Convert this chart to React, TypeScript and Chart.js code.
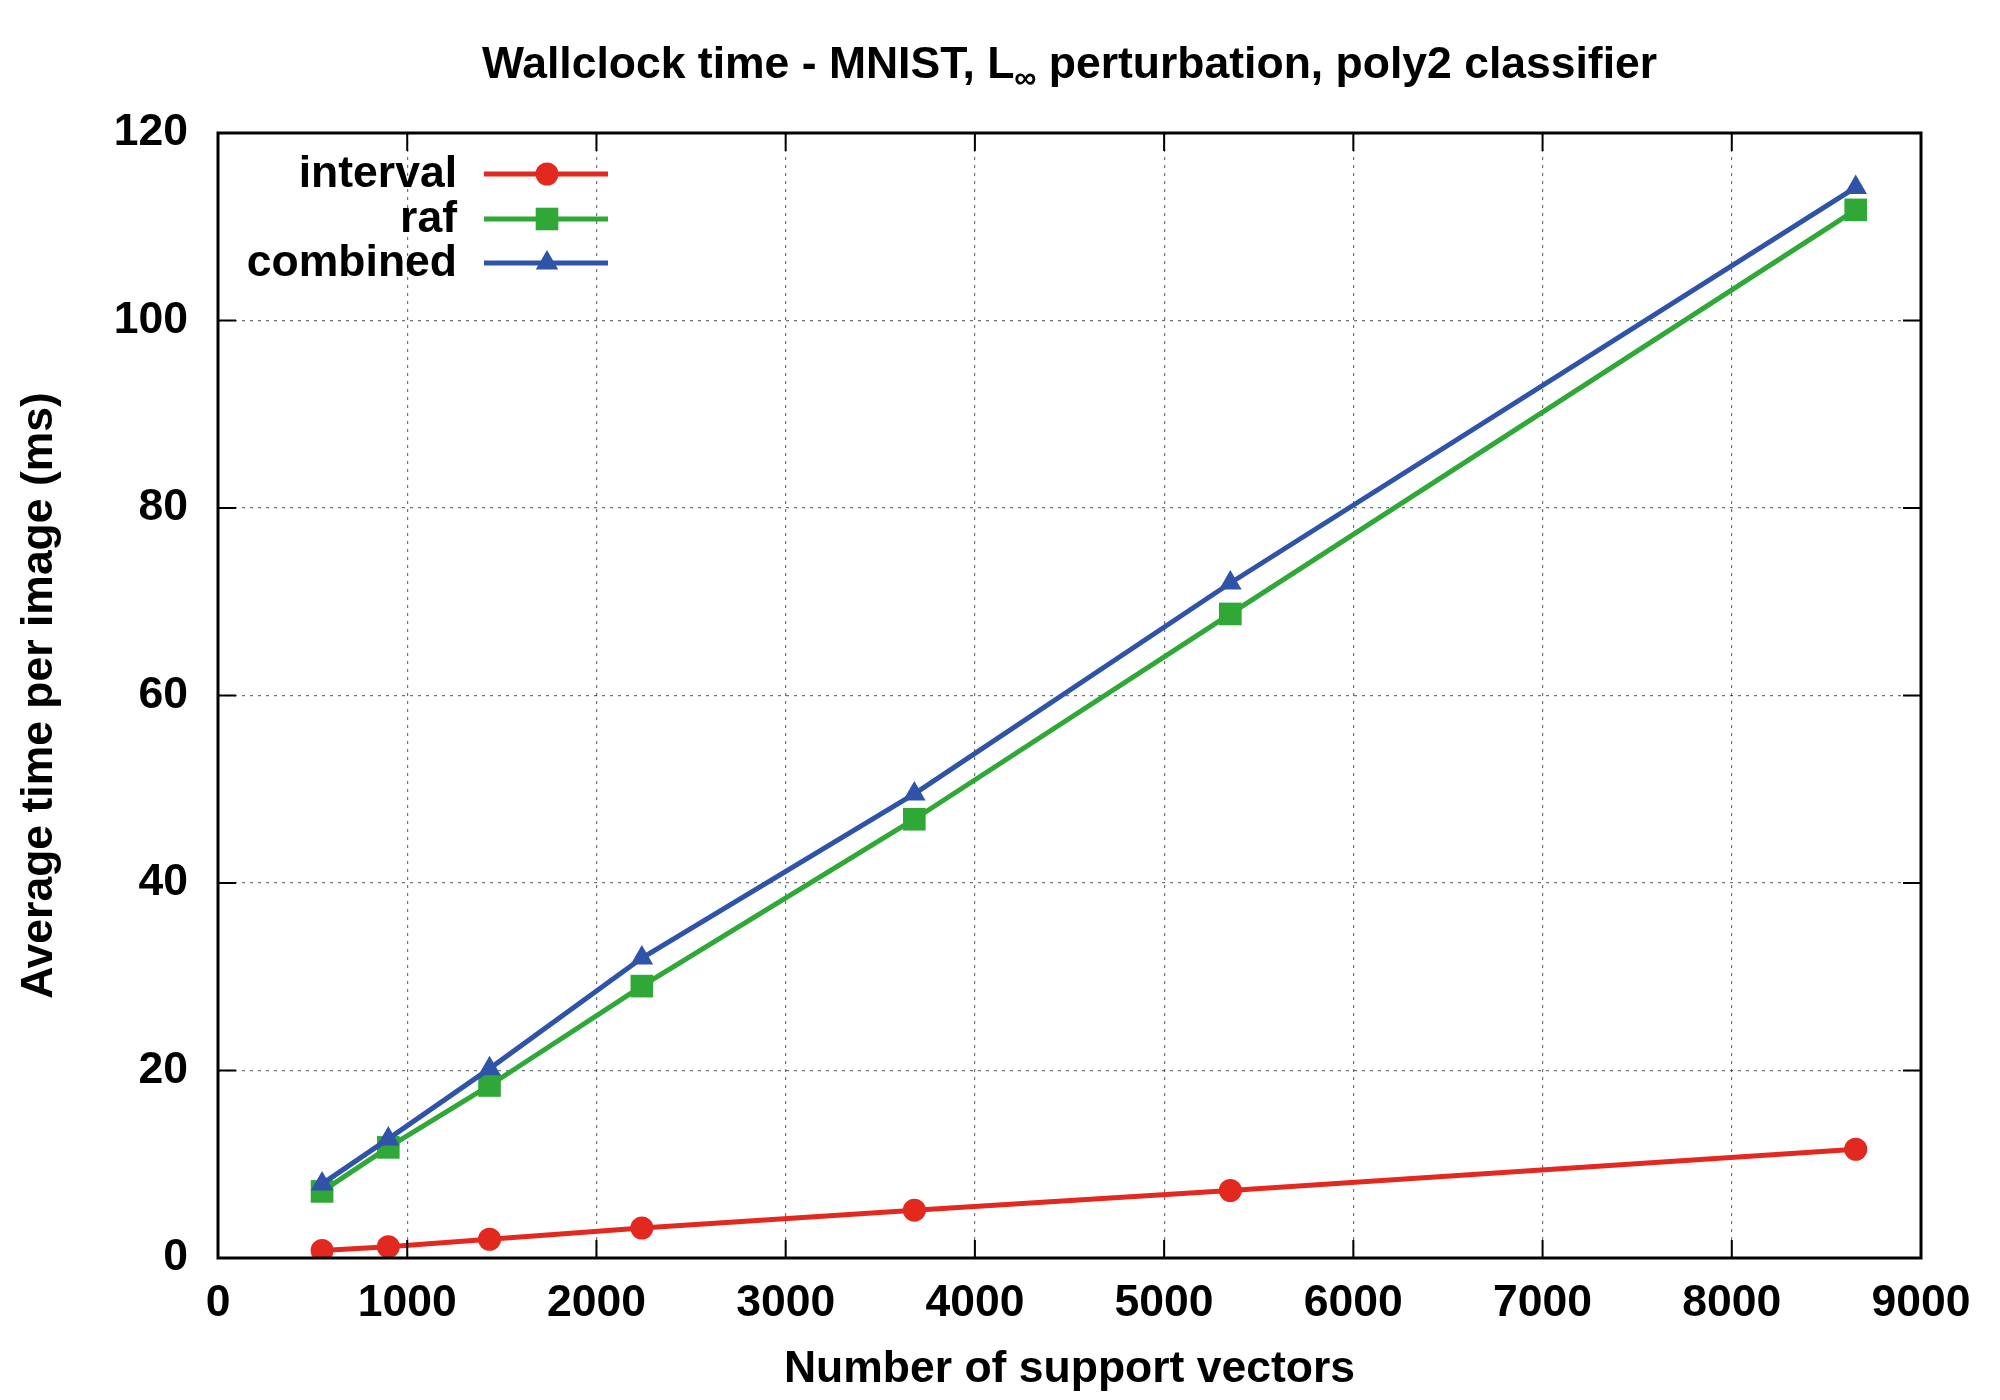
import React, { useEffect, useRef } from "react";
import { Chart, registerables } from "chart.js";

Chart.register(...registerables);

const TITLE_PRE = "Wallclock time - MNIST, L";
const TITLE_SUB = "\u221E";
const TITLE_POST = " perturbation, poly2 classifier";
const X_TITLE = "Number of support vectors";
const Y_TITLE = "Average time per image (ms)";

const supportVectors = [550, 900, 1435, 2240, 3680, 5350, 8655];
const intervalMs = [0.8, 1.2, 2.0, 3.2, 5.1, 7.2, 11.6];
const rafMs = [7.1, 11.8, 18.4, 29.0, 46.8, 68.7, 111.8];
const combinedMs = [7.9, 12.7, 20.2, 32.0, 49.5, 72.0, 114.2];

const seriesLabels = ["interval", "raf", "combined"];
const seriesColors = ["#e3281f", "#2fa838", "#2e53a8"];
const seriesStyles = ["circle", "rect", "triangle"];
const seriesRadius = [11.5, 16, 13];

const X_MIN = 0, X_MAX = 9000, X_STEP = 1000;
const Y_MIN = 0, Y_MAX = 120, Y_STEP = 20;

const FONT_FAMILY = '"Liberation Sans", Arial, Helvetica, sans-serif';
const FS = 44.5;

function drawMarker(ctx: CanvasRenderingContext2D, style: string, x: number, y: number, r: number, color: string) {
  ctx.save();
  ctx.fillStyle = color;
  ctx.beginPath();
  if (style === "circle") {
    ctx.arc(x, y, r, 0, Math.PI * 2);
  } else if (style === "rect") {
    const s = Math.SQRT1_2 * r;
    ctx.rect(x - s, y - s, 2 * s, 2 * s);
  } else {
    let rad = 0;
    ctx.moveTo(x + Math.sin(rad) * r, y - Math.cos(rad) * r);
    rad += (2 * Math.PI) / 3;
    ctx.lineTo(x + Math.sin(rad) * r, y - Math.cos(rad) * r);
    rad += (2 * Math.PI) / 3;
    ctx.lineTo(x + Math.sin(rad) * r, y - Math.cos(rad) * r);
    ctx.closePath();
  }
  ctx.fill();
  ctx.restore();
}

const framePlugin = {
  id: "frameAndDecor",
  afterDraw(chart: any) {
    const { ctx, chartArea } = chart;
    const { left, right, top, bottom } = chartArea;
    const xs = chart.scales.x;
    const ys = chart.scales.y;
    ctx.save();
    // inward tick marks
    ctx.strokeStyle = "#000";
    ctx.lineWidth = 2;
    const TL = 18;
    ctx.beginPath();
    xs.ticks.forEach((t: any) => {
      const px = xs.getPixelForValue(t.value);
      ctx.moveTo(px, bottom);
      ctx.lineTo(px, bottom - TL);
      ctx.moveTo(px, top);
      ctx.lineTo(px, top + TL);
    });
    ys.ticks.forEach((t: any) => {
      const py = ys.getPixelForValue(t.value);
      ctx.moveTo(left, py);
      ctx.lineTo(left + TL, py);
      ctx.moveTo(right, py);
      ctx.lineTo(right - TL, py);
    });
    ctx.stroke();
    // frame
    ctx.lineWidth = 3;
    ctx.strokeRect(left, top, right - left, bottom - top);

    // title with subscript
    const big = `bold ${FS}px ${FONT_FAMILY}`;
    const small = `bold 31px ${FONT_FAMILY}`;
    ctx.fillStyle = "#000";
    ctx.textBaseline = "alphabetic";
    ctx.textAlign = "left";
    ctx.font = big;
    const w1 = ctx.measureText(TITLE_PRE).width;
    const w3 = ctx.measureText(TITLE_POST).width;
    ctx.font = small;
    const w2 = ctx.measureText(TITLE_SUB).width;
    let tx = (left + right) / 2 - (w1 + w2 + w3) / 2;
    const baseY = 70;
    ctx.font = big;
    ctx.fillText(TITLE_PRE, tx, baseY);
    tx += w1;
    ctx.font = small;
    ctx.fillText(TITLE_SUB, tx, baseY + 10);
    tx += w2;
    ctx.font = big;
    ctx.fillText(TITLE_POST, tx, baseY);

    // legend
    const textRight = 449;
    const rowY = [166, 211, 255];
    const lineX0 = 476, lineX1 = 600, markX = 539;
    ctx.font = big;
    ctx.textAlign = "right";
    ctx.textBaseline = "middle";
    chart.data.datasets.forEach((ds: any, i: number) => {
      const y = rowY[i];
      ctx.fillStyle = "#000";
      ctx.fillText(ds.label, textRight, y + 1);
      ctx.strokeStyle = ds.borderColor;
      ctx.lineWidth = 5;
      ctx.beginPath();
      ctx.moveTo(lineX0, y);
      ctx.lineTo(lineX1, y);
      ctx.stroke();
      drawMarker(ctx, ds.pointStyle, markX, y, ds.pointRadius, ds.borderColor);
    });
    ctx.restore();
  },
};

export default function App() {
  const canvasRef = useRef<HTMLCanvasElement | null>(null);

  useEffect(() => {
    if (!canvasRef.current) return;
    const seriesValues = [intervalMs, rafMs, combinedMs];
    const datasets = seriesValues.map((vals, i) => ({
      label: seriesLabels[i],
      data: supportVectors.map((x, j) => ({ x, y: vals[j] })),
      borderColor: seriesColors[i],
      backgroundColor: seriesColors[i],
      pointBackgroundColor: seriesColors[i],
      pointBorderWidth: 0,
      pointStyle: seriesStyles[i],
      pointRadius: seriesRadius[i],
      borderWidth: 5,
      showLine: true,
      fill: false,
      tension: 0,
      order: 2 - i,
    }));

    const tickFont = { family: FONT_FAMILY, size: FS, weight: "bold" as const };
    const chart = new Chart(canvasRef.current, {
      type: "scatter",
      data: { datasets },
      options: {
        animation: false,
        responsive: false,
        devicePixelRatio: 1,
        events: [],
        layout: { padding: { top: 125, right: 71, left: 0, bottom: 0 } },
        plugins: {
          legend: { display: false },
          title: { display: false },
          tooltip: { enabled: false },
        },
        scales: {
          x: {
            type: "linear",
            min: X_MIN,
            max: X_MAX,
            afterFit: (s: any) => {
              s.height = 134;
            },
            ticks: {
              stepSize: X_STEP,
              color: "#000",
              font: tickFont,
              padding: 19,
              maxRotation: 0,
              autoSkip: false,
              callback: (v: any) => String(v),
            },
            grid: { color: "rgba(0,0,0,0.55)", lineWidth: 1.2, drawTicks: false },
            border: { display: false, dash: [3, 5] },
            title: {
              display: true,
              text: X_TITLE,
              color: "#000",
              font: { family: FONT_FAMILY, size: FS, weight: "bold", lineHeight: 1 },
              padding: { top: 0, bottom: 0 },
            },
          },
          y: {
            type: "linear",
            min: Y_MIN,
            max: Y_MAX,
            afterFit: (s: any) => {
              s.width = 210;
            },
            ticks: {
              stepSize: Y_STEP,
              color: "#000",
              font: tickFont,
              padding: 30,
              callback: (v: any) => String(v),
            },
            grid: { color: "rgba(0,0,0,0.55)", lineWidth: 1.2, drawTicks: false },
            border: { display: false, dash: [3, 5] },
            title: {
              display: true,
              text: Y_TITLE,
              color: "#000",
              font: { family: FONT_FAMILY, size: FS, weight: "bold", lineHeight: 1 },
              padding: { top: 9, bottom: 0 },
            },
          },
        },
      },
      plugins: [framePlugin],
    } as any);
    return () => chart.destroy();
  }, []);

  return (
    <div style={{ width: 1984, height: 1384, background: "#fff" }}>
      <canvas ref={canvasRef} width={1984} height={1384} style={{ display: "block" }} />
    </div>
  );
}
